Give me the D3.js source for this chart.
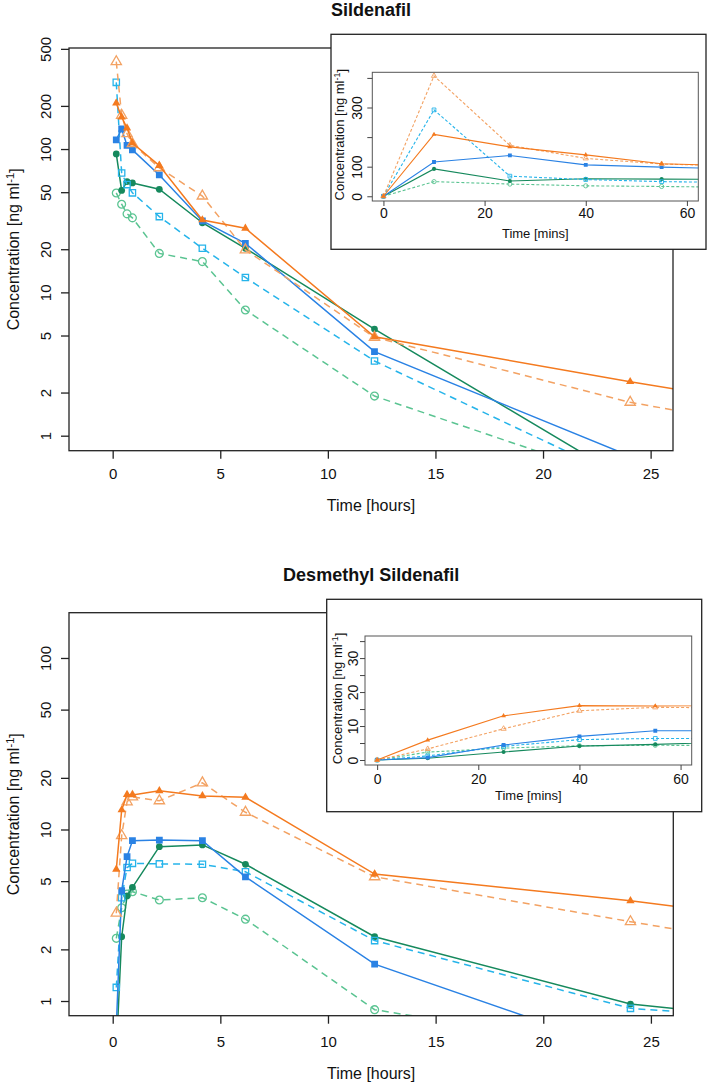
<!DOCTYPE html>
<html><head><meta charset="utf-8">
<script src="https://cdn.jsdelivr.net/npm/d3@7/dist/d3.min.js"></script>
<style>
body{margin:0;background:#fff}
svg{display:block}
text{font-family:"Liberation Sans",Arial,Helvetica,sans-serif;fill:#111}
</style>
</head><body>
<svg id="chart" width="709" height="1084"></svg>
<script>
// ---------------- data ----------------
const timeHours = [0.167, 0.417, 0.667, 0.917, 2.167, 4.167, 6.167, 12.167, 24.05, 48.05];
const insetMinutes = [0, 10, 25, 40, 55, 130];

// Sildenafil (ng/ml)
const silTriFilled  = [209, 167, 140, 110, 76.6, 32, 28, 4.9, 2.38, 0.6];
const silTriOpen    = [407, 172, 128, 109, 74, 47, 19.8, 4.86, 1.71, 0.39];
const silSqFilled   = [116, 138, 106, 98.6, 66, 31.5, 22, 3.86, 0.72, null];
const silSqOpen     = [292, 68, 56.5, 49.5, 33.8, 20.3, 12.7, 3.32, 0.48, null];
const silCircFilled = [92.5, 51.4, 59.3, 58, 52.4, 30.6, 20.3, 5.55, 0.48, null];
const silCircOpen   = [49.4, 41.2, 35.3, 33.1, 18.7, 16.4, 7.54, 1.89, 0.47, null];

// Desmethyl Sildenafil (ng/ml)
const desTriFilled  = [5.85, 13.0, 16.0, 15.9, 16.8, 15.7, 15.4, 5.5, 3.84, 1.63];
const desTriOpen    = [3.25, 9.2, 14.5, 15.5, 14.7, 18.7, 12.6, 5.3, 2.9, 0.91];
const desSqFilled   = [0.7, 4.4, 6.95, 8.6, 8.68, 8.6, 5.3, 1.64, 0.5, null];
const desSqOpen     = [1.2, 4.0, 6.0, 6.35, 6.3, 6.27, 5.67, 2.25, 0.906, 0.56];
const desCircFilled = [0.5, 2.37, 4.1, 4.6, 7.94, 8.13, 6.27, 2.37, 0.96, 0.48];
const desCircOpen   = [2.32, 3.5, 4.2, 4.34, 3.88, 4.0, 3.0, 0.89, 0.51, null];

// ticks
const hourTicks = [0, 5, 10, 15, 20, 25];
const minuteTicks = [0, 20, 40, 60];
const silLogTicks = [1, 2, 5, 10, 20, 50, 100, 200, 500];
const desLogTicks = [1, 2, 5, 10, 20, 50, 100];
const silInsetTicks = [0, 100, 200, 300, 400];
const silInsetTickLabels = [0, 100, 300];
const desInsetTicks = [0, 5, 10, 15, 20, 25, 30, 35];
const desInsetTickLabels = [0, 10, 20, 30];

const titles = ["Sildenafil", "Desmethyl Sildenafil"];
const xTitleMain = "Time [hours]";
const xTitleInset = "Time [mins]";

// ---------------- styles ----------------
const styleOrder = ["circOpen", "circFilled", "sqOpen", "sqFilled", "triOpen", "triFilled"];
const styles = {
  triFilled:  {color: "#F47A1F", dashed: false, sym: d3.symbolTriangle, fill: true,  size: 30, isize: 10},
  triOpen:    {color: "#F3A263", dashed: true,  sym: d3.symbolTriangle, fill: false, size: 46, isize: 12},
  sqFilled:   {color: "#2A82E4", dashed: false, sym: d3.symbolSquare,   fill: true,  size: 46, isize: 15},
  sqOpen:     {color: "#26B4EA", dashed: true,  sym: d3.symbolSquare,   fill: false, size: 40, isize: 14},
  circFilled: {color: "#16895D", dashed: false, sym: d3.symbolCircle,   fill: true,  size: 36, isize: 13},
  circOpen:   {color: "#5BC492", dashed: true,  sym: d3.symbolCircle,   fill: false, size: 48, isize: 14}
};

const svg = d3.select("#chart");
let clipId = 0;

function yTitle(g, x, y, size) {
  const t = g.append("text")
    .attr("transform", `translate(${x},${y}) rotate(-90)`)
    .attr("text-anchor", "middle").attr("dy", "0.35em")
    .style("font-size", size + "px");
  t.append("tspan").text("Concentration [ng ml");
  t.append("tspan").attr("dy", "-0.45em").style("font-size", (size * 0.7) + "px").text("-1");
  t.append("tspan").attr("dy", "0.45em").text("]");
}

function drawSeries(g, x, y, xs, vals, st, lw, dash, inset) {
  const pts = xs.map((t, i) => [t, vals[i]]).filter(d => d[1] != null);
  g.append("path").datum(pts)
    .attr("d", d3.line().x(d => x(d[0])).y(d => y(d[1])))
    .attr("fill", "none").attr("stroke", st.color)
    .attr("stroke-width", lw)
    .attr("stroke-dasharray", st.dashed ? dash : null);
  g.selectAll(null).data(pts).enter().append("path")
    .attr("transform", d => `translate(${x(d[0])},${y(d[1])})`)
    .attr("d", d3.symbol(st.sym, inset ? st.isize : st.size))
    .attr("fill", st.fill ? st.color : "none")
    .attr("stroke", st.fill ? "none" : st.color)
    .attr("stroke-width", inset ? 0.9 : 1.3);
}

function clip(x0, y0, x1, y1) {
  const id = "clip" + (clipId++);
  svg.append("clipPath").attr("id", id).append("rect")
    .attr("x", x0).attr("y", y0).attr("width", x1 - x0).attr("height", y1 - y0);
  return "url(#" + id + ")";
}

function mainPanel(cfg) {
  const {x0, y0, x1, y1} = cfg;
  const x = d3.scaleLinear().domain([-2.03, 26.04]).range([x0, x1]);
  const y = d3.scaleLog().domain(cfg.yDomain).range([y1, y0]);
  const g = svg.append("g");
  // title
  g.append("text").attr("x", (x0 + x1) / 2).attr("y", cfg.titleY)
    .attr("text-anchor", "middle").style("font-size", "18px").style("font-weight", "bold")
    .text(cfg.title);
  // series
  const pg = g.append("g").attr("clip-path", clip(x0, y0, x1, y1));
  styleOrder.forEach(k => drawSeries(pg, x, y, timeHours, cfg.series[k], styles[k], 1.5, "7,5", false));
  // frame
  g.append("rect").attr("x", x0).attr("y", y0).attr("width", x1 - x0).attr("height", y1 - y0)
    .attr("fill", "none").attr("stroke", "#222").attr("stroke-width", 1.3);
  // x axis
  const xa = g.append("g").attr("transform", `translate(0,${y1})`)
    .call(d3.axisBottom(x).tickValues(hourTicks).tickSize(8).tickFormat(d3.format("d")));
  xa.select(".domain").remove();
  xa.selectAll("line").attr("stroke", "#222").attr("stroke-width", 1.3);
  xa.selectAll("text").attr("y", cfg.xLabOff).attr("dy", "0.35em")
    .style("font-size", "15px").style("font-family", null).attr("fill", "#111");
  // y axis
  const ya = g.append("g").attr("transform", `translate(${x0},0)`)
    .call(d3.axisLeft(y).tickValues(cfg.yTicks).tickSize(8).tickFormat(d3.format("d")));
  ya.select(".domain").remove();
  ya.selectAll("line").attr("stroke", "#222").attr("stroke-width", 1.3);
  ya.selectAll("text").attr("x", null).attr("dy", "0.35em")
    .attr("transform", `translate(-23,0) rotate(-90)`).attr("text-anchor", "middle")
    .style("font-size", "15px").attr("fill", "#111");
  ya.attr("font-family", null).attr("font-size", null);
  xa.attr("font-family", null).attr("font-size", null);
  // axis titles
  g.append("text").attr("x", (x0 + x1) / 2).attr("y", y1 + cfg.xTitleOff).attr("dy", "0.35em")
    .attr("text-anchor", "middle").style("font-size", "16px").text(xTitleMain);
  yTitle(g, 13, (y0 + y1) / 2, 16);
}

function insetPanel(cfg) {
  const o = cfg.outer, p = cfg.inner;
  const g = svg.append("g");
  g.append("rect").attr("x", o[0]).attr("y", o[1]).attr("width", o[2] - o[0]).attr("height", o[3] - o[1])
    .attr("fill", "#fff").attr("stroke", "#222").attr("stroke-width", 1.3);
  const x = d3.scaleLinear().domain(cfg.xDomain).range([p[0], p[2]]);
  const y = d3.scaleLinear().domain(cfg.yDomain).range([p[3], p[1]]);
  const pg = g.append("g").attr("clip-path", clip(p[0], p[1], p[2], p[3]));
  styleOrder.forEach(k => {
    const vals = [0].concat(cfg.series[k].slice(0, insetMinutes.length - 1));
    drawSeries(pg, x, y, insetMinutes, vals, styles[k], 1.1, "3,2", true);
  });
  g.append("rect").attr("x", p[0]).attr("y", p[1]).attr("width", p[2] - p[0]).attr("height", p[3] - p[1])
    .attr("fill", "none").attr("stroke", "#555").attr("stroke-width", 1);
  const xa = g.append("g").attr("transform", `translate(0,${p[3]})`)
    .call(d3.axisBottom(x).tickValues(minuteTicks).tickSize(5).tickFormat(d3.format("d")));
  xa.attr("font-family", null).attr("font-size", null);
  xa.select(".domain").remove();
  xa.selectAll("line").attr("stroke", "#444");
  xa.selectAll("text").attr("y", cfg.xLabOff).attr("dy", "0.35em").style("font-size", "14px").attr("fill", "#111");
  const ya = g.append("g").attr("transform", `translate(${p[0]},0)`)
    .call(d3.axisLeft(y).tickValues(cfg.yTicks).tickSize(5)
      .tickFormat(d => cfg.yLabels.includes(d) ? d3.format("d")(d) : ""));
  ya.attr("font-family", null).attr("font-size", null);
  ya.select(".domain").remove();
  ya.selectAll("line").attr("stroke", "#444");
  ya.selectAll("text").attr("x", null).attr("dy", "0.35em")
    .attr("transform", `translate(${-cfg.yLabOff},0) rotate(-90)`).attr("text-anchor", "middle")
    .style("font-size", "14px").attr("fill", "#111");
  g.append("text").attr("x", (p[0] + p[2]) / 2).attr("y", p[3] + cfg.xTitleOff).attr("dy", "0.35em")
    .attr("text-anchor", "middle").style("font-size", "13px").text(xTitleInset);
  yTitle(g, p[0] - cfg.yTitleOff, (p[1] + p[3]) / 2 - 2, 13);
}

const silSeries = {triFilled: silTriFilled, triOpen: silTriOpen, sqFilled: silSqFilled,
  sqOpen: silSqOpen, circFilled: silCircFilled, circOpen: silCircOpen};
const desSeries = {triFilled: desTriFilled, triOpen: desTriOpen, sqFilled: desSqFilled,
  sqOpen: desSqOpen, circFilled: desCircFilled, circOpen: desCircOpen};

mainPanel({x0: 69, y0: 48, x1: 673, y1: 450.7, yDomain: [Math.pow(10, -0.1047), Math.pow(10, 2.705)],
  yTicks: silLogTicks, title: titles[0], titleY: 16, xLabOff: 23.5, xTitleOff: 55, series: silSeries});
insetPanel({outer: [331, 34.3, 706, 249.3], inner: [372.3, 72.3, 698.3, 201],
  xDomain: [-2.2, 62.25], yDomain: [-16, 419], yTicks: silInsetTicks, yLabels: silInsetTickLabels,
  xLabOff: 12.5, xTitleOff: 32, yLabOff: 15.6, yTitleOff: 33, series: silSeries});

mainPanel({x0: 69, y0: 612.7, x1: 673.3, y1: 1015.7, yDomain: [Math.pow(10, -0.0857), Math.pow(10, 2.264)],
  yTicks: desLogTicks, title: titles[1], titleY: 581, xLabOff: 26, xTitleOff: 57.5, series: desSeries});
insetPanel({outer: [326.7, 599.3, 701.7, 811.7], inner: [365, 636, 691.7, 765],
  xDomain: [-2.4, 62.2], yDomain: [-1.47, 36.5], yTicks: desInsetTicks, yLabels: desInsetTickLabels,
  xLabOff: 14, xTitleOff: 30.7, yLabOff: 11.7, yTitleOff: 27.5, series: desSeries});
</script>
</body></html>
